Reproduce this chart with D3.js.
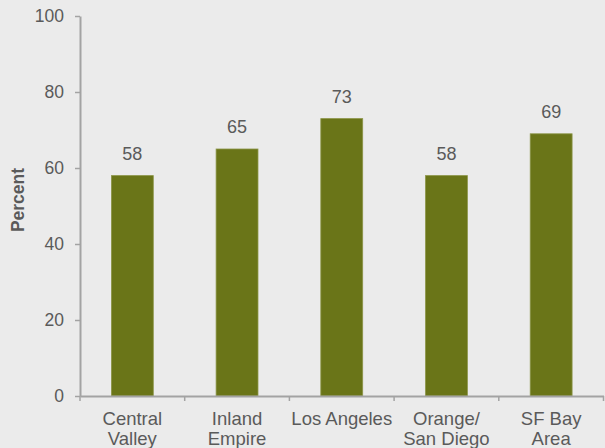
<!DOCTYPE html>
<html>
<head>
<meta charset="utf-8">
<script src="https://cdn.jsdelivr.net/npm/d3@7"></script>
<style>
  html, body { margin: 0; padding: 0; background: #ebebeb; }
  svg { display: block; }
  text { font-family: "Liberation Sans", Arial, sans-serif; fill: #5a5a5a; }
</style>
</head>
<body>
<svg id="chart" width="605" height="448"></svg>
<script>
const categories = [["Central", "Valley"], ["Inland", "Empire"], ["Los Angeles"], ["Orange/", "San Diego"], ["SF Bay", "Area"]];
const values = [58, 65, 73, 58, 69];
const yTicks = [0, 20, 40, 60, 80, 100];
const yLabel = "Percent";

const W = 605, H = 448;
const margin = { left: 80, right: 1.5, top: 16, bottom: 52 };
const svg = d3.select("#chart");
svg.append("rect").attr("width", W).attr("height", H).attr("fill", "#ebebeb");

const keys = categories.map(c => c.join(" "));
const x = d3.scaleBand().domain(keys).range([margin.left, W - margin.right]).padding(0);
const y = d3.scaleLinear().domain([0, 100]).range([H - margin.bottom, margin.top]);
const axisColor = "#a3a3a3";
const barW = x.bandwidth() * 0.4;

// bars
svg.append("g").selectAll("rect").data(values).join("rect")
  .attr("x", (d, i) => x(keys[i]) + x.bandwidth() / 2 - barW / 2)
  .attr("y", d => y(d))
  .attr("width", barW)
  .attr("height", d => y(0) - y(d))
  .attr("fill", "#6a7518")
  .attr("stroke", "#8c9548")
  .attr("stroke-width", 0.8);

// value labels
svg.append("g").selectAll("text").data(values).join("text")
  .attr("x", (d, i) => x(keys[i]) + x.bandwidth() / 2)
  .attr("y", d => y(d) - 16)
  .attr("text-anchor", "middle")
  .style("font-size", "18px")
  .text(d => d);

// y axis
const yAxis = svg.append("g").attr("transform", `translate(${margin.left},0)`)
  .call(d3.axisLeft(y).tickValues(yTicks).tickSize(5).tickPadding(11).tickSizeOuter(0));
yAxis.select(".domain").attr("stroke", axisColor).attr("stroke-width", 2);
yAxis.selectAll(".tick line").attr("stroke", axisColor).attr("stroke-width", 1.5);
yAxis.selectAll(".tick text").style("font-size", "17.5px").attr("fill", "#5a5a5a")
  .style("font-family", '"Liberation Sans", Arial, sans-serif');

// x axis
const xAxis = svg.append("g").attr("transform", `translate(0,${y(0)})`)
  .call(d3.axisBottom(x).tickSize(0).tickFormat(""));
xAxis.select(".domain").attr("stroke", axisColor).attr("stroke-width", 2);
xAxis.selectAll(".tick").remove();
const bounds = keys.map(k => x(k)).concat([x(keys[keys.length - 1]) + x.bandwidth()]);
xAxis.selectAll("line.sep").data(bounds).join("line").attr("class", "sep")
  .attr("x1", d => d).attr("x2", d => d).attr("y1", 0).attr("y2", 5)
  .attr("stroke", axisColor).attr("stroke-width", 1.5);

// x labels
const xl = svg.append("g").selectAll("text").data(categories).join("text")
  .attr("x", (d, i) => x(keys[i]) + x.bandwidth() / 2)
  .attr("y", y(0) + 29)
  .attr("text-anchor", "middle")
  .style("font-size", "18.5px");
xl.each(function(d, i) {
  const t = d3.select(this);
  const cx = x(keys[i]) + x.bandwidth() / 2;
  d.forEach((line, j) => {
    t.append("tspan").attr("x", cx).attr("dy", j === 0 ? 0 : 20).text(line);
  });
});

// y label
svg.append("text")
  .attr("transform", `translate(24,${(y(0) + y(100)) / 2 - 6}) rotate(-90)`)
  .attr("text-anchor", "middle")
  .style("font-size", "17.5px")
  .style("font-weight", "bold")
  .text(yLabel);
</script>
</body>
</html>
